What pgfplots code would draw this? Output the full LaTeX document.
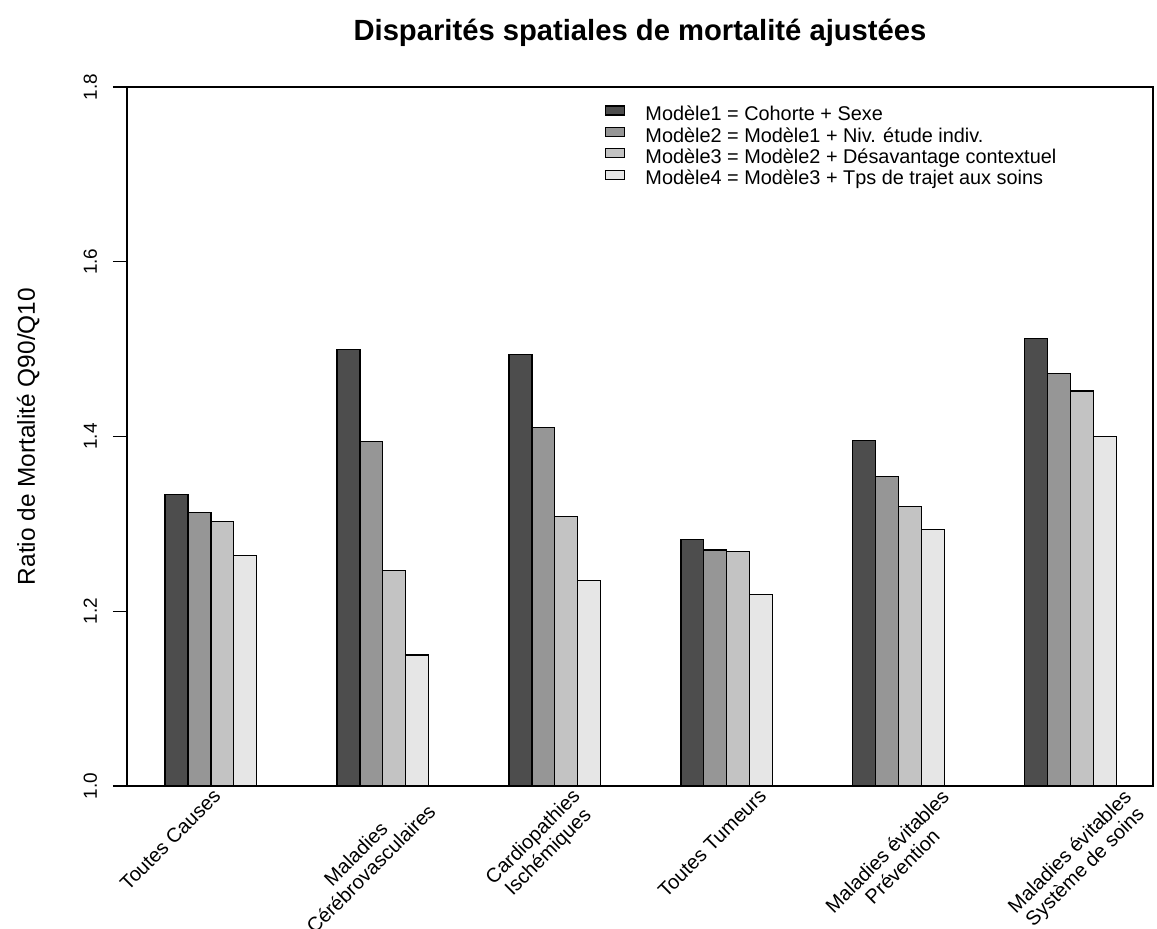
\documentclass[border=0pt]{standalone}
\usepackage{fontspec}
\setmainfont{Liberation Sans}
\usepackage{pgfplots}
\pgfplotsset{compat=1.18}
\definecolor{g1}{HTML}{4D4D4D}
\definecolor{g2}{HTML}{969696}
\definecolor{g3}{HTML}{C3C3C3}
\definecolor{g4}{HTML}{E6E6E6}
\pgfplotsset{
  mybar/.style={ybar, bar width=1, bar shift=0pt, draw=black, line width=0.9pt,
    legend image code/.code={\draw[##1, line width=0.9pt] (0pt,0.8pt) rectangle (14.25pt,7.6pt);}},
}
\begin{document}
\begin{tikzpicture}
\begin{axis}[
  scale only axis,
  width=769.5pt, height=524.25pt,
  xmin=1.84, xmax=46.59,
  ymin=1, ymax=1.8,
  ytick={1,1.2,1.4,1.6,1.8},
  ytick pos=left,
  tick align=outside,
  major tick length=10.5pt,
  axis line style={line width=1pt},
  every tick/.style={line width=1pt, black},
  /pgf/number format/assume math mode=true,
  yticklabel style={/pgf/number format/.cd, fixed, fixed zerofill, precision=1, /tikz/.cd,
    rotate=90, anchor=base, inner sep=0pt, yshift=12pt, font=\fontsize{14.2pt}{17pt}\selectfont},
  xtick={6.1,14.8,21.75,29.9,37.85,45.8},
  xticklabels={Toutes Causes, {Maladies\\Cérébrovasculaires}, {Cardiopathies\\Ischémiques}, Toutes Tumeurs, {Maladies évitables\\Prévention}, {Maladies évitables\\Système de soins}},
  xtick style={draw=none},
  xticklabel style={rotate=45, anchor=north east, align=center, inner sep=0pt, yshift=13.5pt,
    font=\fontsize{15pt}{16pt}\selectfont},
  ylabel={Ratio de Mortalité Q90/Q10},
  ylabel style={at={(axis description cs:-0.0897,0.5)}, anchor=base, inner sep=0pt,
    font=\fontsize{18.3pt}{22pt}\selectfont},
  title={Disparités spatiales de mortalité ajustées},
  title style={at={(axis description cs:0.5,1)}, anchor=base, yshift=29pt, inner sep=0pt,
    font=\fontsize{21.9pt}{26pt}\selectfont\bfseries},
  legend style={at={(axis description cs:0.462,0.978)}, anchor=north west, draw=none, fill=none,
    font=\fontsize{14.9pt}{16pt}\selectfont, row sep=1pt,
    nodes={inner sep=0pt, text height=10.5pt, text depth=3.5pt},
    /tikz/every odd column/.append style={column sep=15pt}},
  legend cell align=left,
]
\addplot[mybar, fill=g1] coordinates {(4,1.334) (11.5,1.500) (19,1.494) (26.5,1.282) (34,1.395) (41.5,1.512)};
\addlegendentry{Modèle1 = Cohorte + Sexe}
\addplot[mybar, fill=g2] coordinates {(5,1.313) (12.5,1.394) (20,1.410) (27.5,1.270) (35,1.354) (42.5,1.472)};
\addlegendentry{Modèle2 = Modèle1 + Niv. étude indiv.}
\addplot[mybar, fill=g3] coordinates {(6,1.303) (13.5,1.247) (21,1.308) (28.5,1.268) (36,1.320) (43.5,1.452)};
\addlegendentry{Modèle3 = Modèle2 + Désavantage contextuel}
\addplot[mybar, fill=g4] coordinates {(7,1.264) (14.5,1.150) (22,1.235) (29.5,1.219) (37,1.294) (44.5,1.400)};
\addlegendentry{Modèle4 = Modèle3 + Tps de trajet aux soins}
\end{axis}
\pgfresetboundingbox
\path[use as bounding box] ([shift={(-95.25pt,-107.25pt)}]current axis.south west) rectangle ([shift={(3pt,65.25pt)}]current axis.north east);
\end{tikzpicture}
\end{document}
